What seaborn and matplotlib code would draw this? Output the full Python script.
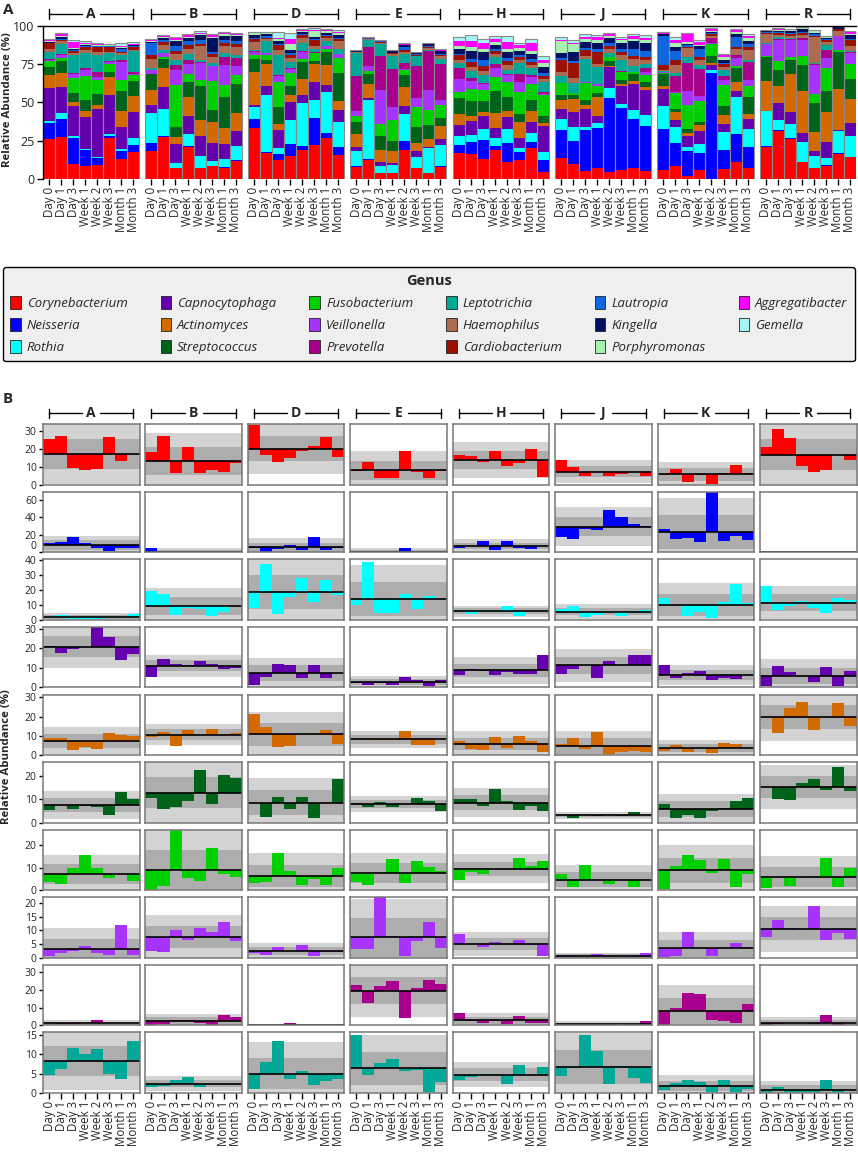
import numpy as np
import matplotlib
matplotlib.use("Agg")
import matplotlib.pyplot as plt
from matplotlib.patches import Patch
import seaborn as sns

# subjects and sampling times
subjects = ["A", "B", "D", "E", "H", "J", "K", "R"]
timepoints = ["Day 0", "Day 1", "Day 3", "Week 1", "Week 2", "Week 3", "Month 1", "Month 3"]

genera = ["Corynebacterium", "Neisseria", "Rothia", "Capnocytophaga", "Actinomyces",
          "Streptococcus", "Fusobacterium", "Veillonella", "Prevotella", "Leptotrichia",
          "Haemophilus", "Cardiobacterium", "Lautropia", "Kingella", "Porphyromonas",
          "Aggregatibacter", "Gemella"]
colors = ["#ff0000", "#0000ff", "#00ffff", "#6400ae", "#d26a00", "#00631a", "#00d000",
          "#a833ff", "#a8008c", "#00a898", "#ad6b4f", "#9b1205", "#0d66e0", "#001060",
          "#a6f0b0", "#ff00ff", "#a6f6f6"]

# relative abundance (%), 8 timepoints per subject, subjects in order A B D E H J K R
corynebacterium = [26, 27.2, 9.5, 8.4, 8.9, 27, 13.2, 17.5,
                   18.4, 27.6, 6.9, 21, 6.9, 8.4, 7.3, 12,
                   33.5, 17, 12.7, 15, 19.2, 22, 27, 15.5,
                   8, 12.7, 3.9, 3.9, 19.2, 7.1, 3.7, 8,
                   16.9, 16.4, 12.8, 18.8, 10.8, 12.3, 20.1, 4.5,
                   14, 9.9, 5, 7.4, 4.7, 5.8, 7, 5.2,
                   5.6, 8.6, 1.7, 5.6, 0.2, 6.7, 11.2, 6.9,
                   21.2, 31.5, 26.3, 10.8, 7.3, 8.4, 16.5, 14.2]
neisseria = [10.5, 12, 17.5, 10.4, 4.7, 1.2, 5, 5,
             5.4, 0.3, 0.4, 0.3, 0.2, 0.4, 0.3, 0.4,
             5.5, 0.8, 3.5, 8, 2.3, 17.8, 3.1, 5.5,
             0.3, 0.2, 0.3, 0.3, 5.5, 0.3, 0.2, 0.3,
             5, 7.8, 12.8, 2.7, 12.8, 5.4, 3.9, 7.8,
             17.8, 14.7, 26.7, 25.6, 48.4, 40.3, 32.2, 29.5,
             27.1, 15.1, 16.7, 11.6, 69, 12.4, 18.2, 14.3,
             0.2, 0.2, 0.2, 0.2, 0.2, 0.5, 0.2, 0.2]
rothia = [1.6, 3.6, 0.9, 0.9, 0.8, 1.2, 1.4, 4.2,
          19.1, 17.6, 3.3, 8, 7.6, 2.7, 5.6, 9,
          8, 37.1, 3.8, 15.6, 28.2, 12, 26.7, 16.4,
          9.8, 38.9, 4.4, 4.7, 17.6, 7.1, 16, 14.2,
          6.4, 4.2, 6.9, 5.5, 9.1, 2.4, 5.8, 5.5,
          7.3, 9.6, 2.2, 3.3, 6, 2.9, 6, 6.9,
          14.7, 10.2, 2.4, 5.6, 1.6, 11.8, 24.2, 11.3,
          22.7, 6.9, 9.6, 12.9, 7.8, 4.9, 14.7, 13.6]
capnocytophaga = [21, 17.5, 19.7, 20.5, 31, 25.6, 14.1, 17.1,
                  5.4, 14.6, 12.2, 11.7, 13.4, 11.9, 9.5, 10,
                  1.5, 5.6, 12, 11.4, 4.9, 11.7, 4.6, 7.5,
                  2.5, 1, 2.5, 1.4, 5.4, 3.9, 0.7, 3.8,
                  6.6, 9.5, 8.6, 6.3, 8, 6.9, 7.1, 16.8,
                  6.8, 9.3, 11.6, 4.9, 13.7, 11.5, 16.6, 16.6,
                  11.4, 4.6, 7.5, 8.6, 3.7, 4.7, 4.1, 6.4,
                  0.5, 11, 7.8, 5.9, 2.7, 10.5, 0.5, 8.6]
actinomyces = [8.7, 9, 2.8, 4, 3.1, 11.6, 10.6, 10.1,
               9.5, 12.1, 4.5, 12.8, 10.2, 13.7, 10.7, 11.6,
               21.3, 14.6, 4, 4.9, 10.7, 11.6, 12.8, 5.7,
               8.5, 9, 7.8, 8, 12.5, 5.2, 5.2, 8.5,
               7.5, 2.9, 2.6, 9.5, 3.8, 10.1, 7.5, 1.7,
               5.9, 9, 2.9, 12.1, 0.7, 1.7, 2.3, 1.7,
               1.9, 5.2, 1.4, 3.8, 0.9, 6.2, 5.7, 3.8,
               19.6, 11.3, 24.3, 27.6, 12.8, 19.6, 26.9, 15.3]
streptococcus = [5.2, 7.4, 5.8, 7.2, 6.7, 3.4, 12.9, 10.1,
                 10.6, 5.8, 6.8, 9.2, 22.4, 8, 20.4, 18.9,
                 8.4, 2.4, 11.1, 5.7, 10.8, 2, 8.4, 18.6,
                 8.4, 6.7, 8.9, 6.8, 7.8, 10.4, 9.4, 5,
                 10.2, 9.9, 7.2, 14.3, 9.1, 5.5, 7, 5.1,
                 3.3, 2, 3.3, 2.7, 3.3, 2.7, 4.5, 3.3,
                 8.1, 1.8, 3.1, 2.1, 4.8, 6, 9.1, 10.6,
                 15.3, 10.1, 9.6, 16.9, 18.6, 13.8, 23.8, 13.6]
fusobacterium = [3.7, 2.5, 9.7, 15.5, 9.7, 5.2, 7.2, 3.9,
                 0.1, 1.9, 26.9, 5.5, 3.9, 19, 7.2, 5.8,
                 3, 3.6, 16.4, 8.7, 2.2, 4.8, 2.2, 9.9,
                 3.7, 2.2, 7.9, 13.7, 3, 13.1, 10.1, 8.5,
                 4.3, 8.1, 7, 9.4, 9.4, 14.3, 10.6, 13.1,
                 7.2, 1.5, 11, 4.6, 2.5, 4.6, 1.2, 4.6,
                 0.6, 10.9, 15.5, 13.6, 7.6, 13.7, 1.2, 7.3,
                 0.9, 6, 1.8, 6, 6.2, 14.5, 1.6, 9.7]
veillonella = [0.6, 1.8, 2.4, 4.4, 1.6, 1, 12.1, 0.9,
               2.6, 2, 10.2, 6.4, 10.8, 9.4, 13.1, 6.1,
               1.8, 0.8, 3.9, 2.3, 4.8, 0.5, 2, 2.2,
               3.3, 3, 22.1, 7.9, 0.6, 5.9, 13, 3.5,
               8.6, 4.9, 3.75, 5.75, 4.9, 6.5, 4.6, 0.75,
               0.1, 0.3, 0.5, 1.2, 0.2, 0.5, 0.2, 1.8,
               0.1, 0.5, 9.2, 3.4, 0.75, 3.4, 5.5, 4,
               7.4, 13.9, 11, 10.6, 18.9, 6.5, 9.1, 6.75]
prevotella = [1, 0.6, 0.6, 1, 3.2, 1, 1, 1,
              0.1, 0.5, 3.1, 2.7, 1, 0, 5.5, 4.9,
              0.2, 0.2, 0.2, 1, 0.2, 0.2, 0.2, 0.2,
              22.8, 12.3, 22.4, 25.1, 4.2, 21, 25.4, 23.5,
              6.8, 2.5, 1.1, 2.5, 0.8, 5.1, 1.3, 1.3,
              0.1, 0.1, 0.1, 0.1, 0.1, 0.5, 0.1, 2.5,
              0, 10, 18.4, 17.6, 3.2, 2.5, 1.5, 11.8,
              0.3, 0.4, 1, 1, 0.6, 5.5, 0.2, 1]
leptotrichia = [4.7, 6.3, 11.7, 10.2, 11.3, 4.8, 3.6, 13.5,
                1.4, 1.8, 3.4, 4.1, 1.4, 2.3, 2.3, 2.3,
                1, 8.1, 13.6, 3.5, 5.6, 1.9, 3, 3.5,
                15, 4.6, 7.7, 8.7, 5.8, 6, 0.2, 2.9,
                3.4, 4, 4.8, 4.8, 2.4, 7.3, 4.6, 6.8,
                4.4, 6.5, 15.1, 11, 2.3, 7.1, 3.9, 2.6,
                0.8, 2.5, 3.4, 2.7, 0.2, 3.4, 0.2, 0.9,
                0.3, 1.4, 0.3, 0.3, 0.3, 3.3, 0.1, 0.7]
haemophilus = [1.5, 2, 1.5, 1.5, 2, 1, 1, 1,
               6, 3, 4, 3, 9, 4, 5, 5,
               5, 1, 3, 3, 3, 2, 2, 5,
               0.3, 0.5, 1, 1, 1.5, 0.5, 1.5, 2,
               2, 3, 3, 2, 3, 2, 2, 2,
               3, 3, 2, 2, 3, 3, 4, 3,
               1, 5, 6, 3, 1.5, 2, 4, 7,
               6, 1.5, 1.5, 2, 17, 2, 3, 3]
cardiobacterium = [4, 1, 1.5, 2, 3, 3, 1, 1.5,
                   2, 2, 2, 3, 1, 2, 2, 2,
                   2, 1, 3, 2, 2, 4, 1, 1,
                   0.3, 0.5, 0.5, 0.5, 1, 0.5, 1, 1,
                   3, 3, 3, 2, 3, 2, 2, 2,
                   8, 10, 4, 8, 2, 2, 2, 2,
                   3, 3, 1, 2, 1, 2, 1, 2,
                   1, 1, 1.5, 1, 1, 1, 1, 4]
lautropia = [0.5, 0.5, 0.5, 0.5, 0.5, 0.5, 2, 1,
             8, 1.5, 3, 2, 3, 1, 1.5, 2,
             1, 1, 1, 1, 1, 1, 1, 1,
             0.2, 0.3, 0.3, 0.3, 2, 0.3, 0.5, 0.5,
             1, 2, 4, 1, 2, 1, 2, 2,
             1, 1, 1, 2, 2, 2, 5, 4,
             19, 6, 1, 5, 0.5, 1, 7, 2,
             0.5, 0.5, 0.5, 0.5, 1, 0.5, 0.5, 1]
kingella = [0.5, 1, 0.5, 1, 0.5, 0.5, 0.5, 0.5,
            1, 1.5, 3, 2, 3, 9, 3, 3,
            2, 1.5, 2, 2, 1, 1, 1.5, 2,
            1, 0.5, 0.7, 1, 1, 1, 1, 1.5,
            3, 5, 5, 3, 4, 3, 3, 4,
            3, 6, 4, 4, 3, 4, 5, 5,
            1, 3, 1, 2, 1, 2, 2, 2,
            0.5, 1, 1, 2, 1, 1, 1, 2]
porphyromonas = [0.3, 1, 1, 0.5, 0.5, 0.5, 0.5, 0.3,
                 0.5, 0.5, 1, 1, 1, 1, 1, 1,
                 1, 0.5, 1, 4, 0.5, 4, 1, 1,
                 0.1, 0.3, 0.3, 0.3, 0.5, 0.3, 0.5, 0.5,
                 2, 3, 2, 1.5, 2, 1.5, 2, 2,
                 8, 5, 2, 2, 1.5, 2, 1.5, 2,
                 0.5, 2, 1, 1, 0.5, 2, 1, 2,
                 0.5, 0.5, 0.5, 0.5, 1, 0.5, 0.2, 1]
aggregatibacter = [1, 1, 4, 1, 1, 0.3, 0.5, 0.5,
                   0.5, 0.5, 1, 1, 0.5, 1, 1, 0.5,
                   0.5, 0.5, 1, 3, 0.5, 1, 0.5, 1,
                   0.1, 0.1, 0.1, 0.2, 0.5, 0.2, 0.3, 0.5,
                   3, 4, 4, 2.5, 4, 2, 5, 2,
                   1, 1, 1.5, 1.5, 1, 1, 1.5, 1.5,
                   0.5, 2, 5, 2, 1.5, 1, 1, 1,
                   0.3, 0.5, 0.4, 0.4, 0.5, 0.5, 0.1, 1]
gemella = [0.5, 1, 1, 1, 0.5, 0.5, 2, 1,
           0.5, 0.5, 1, 1, 1.5, 1, 0.5, 0.5,
           0.5, 0.5, 4, 4, 1, 1, 1, 1,
           0.1, 0.1, 0.1, 0.2, 0.5, 0.2, 0.2, 0.5,
           3, 4, 3, 2, 4, 1.5, 3, 3,
           2, 2, 1.5, 1.5, 1, 1, 1.5, 1.5,
           0.5, 2, 1, 1, 0.5, 1, 1, 1,
           0.2, 0.6, 0.3, 0.3, 0.5, 0.5, 0.2, 1]

all_values = [corynebacterium, neisseria, rothia, capnocytophaga, actinomyces,
              streptococcus, fusobacterium, veillonella, prevotella, leptotrichia,
              haemophilus, cardiobacterium, lautropia, kingella, porphyromonas,
              aggregatibacter, gemella]

# panel B: y range and ticks per genus row
row_ylim = [34, 69, 40.5, 31, 31.5, 25.8, 27, 22.1, 34.2, 15.8]
row_ticks = [[0, 10, 20, 30], [0, 20, 40, 60], [0, 10, 20, 30, 40], [0, 10, 20, 30],
             [0, 10, 20, 30], [0, 10, 20], [0, 10, 20], [0, 5, 10, 15, 20],
             [0, 10, 20, 30], [0, 5, 10, 15]]

sns.set_theme(style="white")
plt.rcParams['font.family'] = ['Open Sans', 'DejaVu Sans']
plt.rcParams['axes.linewidth'] = 1.0

W, H = 858, 1154
fig = plt.figure(figsize=(W / 100, H / 100), dpi=100)


def px_axes(x0, y0, x1, y1):
    return fig.add_axes([x0 / W, 1 - y1 / H, (x1 - x0) / W, (y1 - y0) / H])


def bracket(ax, x0, x1, y, label, half_gap, tick_h):
    tr = ax.get_xaxis_transform()
    xc = (x0 + x1) / 2
    kw = dict(transform=tr, clip_on=False, color="black", lw=1.0)
    ax.plot([x0, xc - half_gap], [y, y], **kw)
    ax.plot([xc + half_gap, x1], [y, y], **kw)
    ax.plot([x0, x0], [y - tick_h, y + tick_h], **kw)
    ax.plot([x1, x1], [y - tick_h, y + tick_h], **kw)
    ax.text(xc, y, label, transform=tr, ha="center", va="center",
            fontsize=10, fontweight="bold")


# ---------- Panel A: stacked bars ----------
axA = px_axes(43, 25.7, 856, 179)
gap = 8.5
xpos = np.array([g * gap + i for g in range(8) for i in range(8)])
bottom = np.zeros(len(xpos))
for vals, col in zip(all_values, colors):
    vals = np.array(vals, dtype=float)
    axA.bar(xpos, vals, width=1.0, bottom=bottom, color=col, linewidth=0)
    bottom += vals
axA.bar(xpos, bottom, width=1.0, fill=False, edgecolor="#8a8a8a", linewidth=0.8)
axA.set_xlim(-0.5, 7 * gap + 7.5)
axA.set_ylim(0, 100)
axA.set_yticks([0, 25, 50, 75, 100])
axA.set_xticks(xpos)
axA.set_xticklabels(timepoints * 8, rotation=90, fontsize=8.3)
axA.tick_params(axis="y", labelsize=9, left=True, length=4, width=1, color="black", pad=2)
axA.tick_params(axis="x", bottom=True, top=False, labelbottom=True, labeltop=False,
                length=4, width=1, color="black", pad=1.5)
axA.spines["bottom"].set_visible(False)
axA.spines["right"].set_visible(False)
for s in ["left", "top"]:
    axA.spines[s].set_color("black")
for g, s in enumerate(subjects):
    bracket(axA, g * gap, g * gap + 7, 1.076, s, 0.75, 0.03)
fig.text(8 / W, 1 - 100 / H, "Relative Abundance (%)", rotation=90, fontsize=8.2,
         fontweight="bold", ha="center", va="center")
fig.text(3 / W, 1 - 10 / H, "A", fontsize=11, fontweight="bold", va="center")

# ---------- Legend ----------
handles = [Patch(facecolor=c, edgecolor="#222222", linewidth=0.6) for c in colors]
leg = fig.legend(handles, genera, loc="upper left", ncol=6, mode="expand",
                 bbox_to_anchor=(3 / W, 1 - 360 / H, 852 / W, 93 / H), borderaxespad=0,
                 prop={"style": "italic", "size": 9.5}, title="Genus",
                 title_fontproperties={"weight": "bold", "size": 10.5},
                 handlelength=0.8, handleheight=1.15, handletextpad=0.45,
                 labelspacing=0.6, borderpad=0.55, columnspacing=0.8,
                 fancybox=True, framealpha=1, facecolor="#efefef", edgecolor="black")
leg.get_frame().set_linewidth(1.0)

# ---------- Panel B: deviation from subject mean ----------
fig.text(3 / W, 1 - 399 / H, "B", fontsize=11, fontweight="bold", va="center")
pitch_y = 67.55
pitch_x = 102.43
for r in range(10):
    data = np.array(all_values[r], dtype=float).reshape(8, 8)
    top = 424.3 + r * pitch_y
    for c in range(8):
        left = 43 + c * pitch_x
        ax = px_axes(left, top, left + 96.5, top + 60.5)
        v = data[c]
        m = v.mean()
        sd = v.std(ddof=1)
        ax.axhspan(m - 2 * sd, m + 2 * sd, color="#d3d3d3", lw=0, zorder=0)
        ax.axhspan(m - sd, m + sd, color="#adadad", lw=0, zorder=0.5)
        ax.bar(np.arange(8), v - m, bottom=m, width=1.0, color=colors[r], linewidth=0, zorder=1)
        ax.axhline(m, color="black", lw=1.2, zorder=2)
        ax.set_xlim(-0.5, 7.5)
        ax.set_ylim(0, row_ylim[r])
        for s in ax.spines.values():
            s.set_color("#777777")
            s.set_linewidth(1.1)
        ax.set_yticks(row_ticks[r])
        if c == 0:
            ax.tick_params(axis="y", left=True, labelsize=7.5, length=3, width=1,
                           color="black", pad=1.5)
            if r == 1:
                # keep the "0" clear of the "40" label of the row below
                ax.get_yticklabels()[0].set_verticalalignment("bottom")
        else:
            ax.set_yticklabels([])
            ax.tick_params(axis="y", left=False)
        ax.set_xticks(np.arange(8))
        if r == 9:
            ax.set_xticklabels(timepoints, rotation=90, fontsize=8.3)
            ax.tick_params(axis="x", bottom=True, length=4, width=1, color="black", pad=1.5)
        else:
            ax.set_xticklabels([])
            ax.tick_params(axis="x", bottom=False)
        if r == 0:
            bracket(ax, 0, 7, 1 + 11 / 60.5, subjects[c], 0.75, 0.074)

fig.text(7 / W, 1 - 757 / H, "Relative Abundance (%)", rotation=90, fontsize=8.2,
         fontweight="bold", ha="center", va="center")

fig.savefig("out.png", dpi=100)
